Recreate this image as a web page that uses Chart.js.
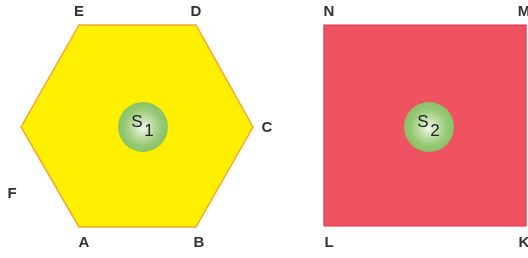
<!DOCTYPE html>
<html>
<head>
<meta charset="utf-8">
<script src="https://cdn.jsdelivr.net/npm/chart.js@4/dist/chart.umd.min.js"></script>
<style>
  html, body { margin: 0; padding: 0; background: #fff; }
  #wrap { width: 528px; height: 258px; }
</style>
</head>
<body>
<div id="wrap"><canvas id="shapes"></canvas></div>
<script>
// hexagon ABCDEF and square KLNM, in picture units
var hexX = [79, 196, 253, 196, 79, 21, 79];
var hexY = [227, 227, 127, 25, 25, 127, 227];
var squareX = [324, 526, 526, 324, 324];
var squareY = [226, 226, 25, 25, 226];

// centres of the two discs
var discX = [143, 429];
var discY = [127, 127];
var discNames = ["1", "2"];

// vertex letters
var letterNames = ["A", "B", "C", "D", "E", "F", "N", "M", "L", "K"];
var letterX = [84, 199, 267, 196, 79, 12, 329, 524, 329, 524];
var letterY = [243, 243, 128, 12, 12, 194, 12, 12, 243, 243];

function pts(xs, ys) {
    return xs.map(function (x, i) { return { x: x, y: ys[i] }; });
}

var textPlugin = {
    id: 'textPlugin',
    afterDatasetsDraw: function (chart) {
        var c = chart.ctx, sx = chart.scales.x, sy = chart.scales.y;
        c.save();
        c.fillStyle = '#333';
        c.textAlign = 'center';
        c.textBaseline = 'middle';
        c.font = 'bold 15px "Liberation Sans", Arial, sans-serif';
        letterNames.forEach(function (n, i) {
            c.fillText(n, sx.getPixelForValue(letterX[i]), sy.getPixelForValue(letterY[i]));
        });
        c.fillStyle = '#222';
        c.font = '17px "Liberation Sans", Arial, sans-serif';
        discNames.forEach(function (n, i) {
            var px = sx.getPixelForValue(discX[i]), py = sy.getPixelForValue(discY[i]);
            c.fillText('S', px - 6, py - 5);
            c.fillText(n, px + 6, py + 4);
        });
        c.restore();
    }
};

var ctx = document.getElementById("shapes");
var chart = new Chart(ctx, {
    type: 'scatter',
    data: {
        datasets: [
            {
                type: 'bubble',
                label: "discs",
                data: discX.map(function (x, i) { return { x: x, y: discY[i], r: 25 }; }),
                borderWidth: 0,
                hoverRadius: 0,
                backgroundColor: function (context) {
                    var ch = context.chart;
                    if (!ch.chartArea || !context.raw) return '#8fc66a';
                    var px = ch.scales.x.getPixelForValue(context.raw.x);
                    var py = ch.scales.y.getPixelForValue(context.raw.y);
                    var g = ch.ctx.createRadialGradient(px, py + 1, 0, px, py, 25);
                    g.addColorStop(0, '#f3f7ee');
                    g.addColorStop(0.4, '#bcdca4');
                    g.addColorStop(0.75, '#95c873');
                    g.addColorStop(1, '#8bc265');
                    return g;
                }
            },
            {
                label: "hexagon",
                data: pts(hexX, hexY),
                showLine: true,
                fill: 'shape',
                borderColor: "#f4a630",
                borderWidth: 1.5,
                backgroundColor: "#fff000",
                pointRadius: 0,
                pointHoverRadius: 0,
                tension: 0
            },
            {
                label: "square",
                data: pts(squareX, squareY),
                showLine: true,
                fill: 'shape',
                borderColor: "#ea3341",
                borderWidth: 1.2,
                backgroundColor: "#ef5261",
                pointRadius: 0,
                pointHoverRadius: 0,
                tension: 0
            }
        ]
    },
    options: {
        responsive: true,
        maintainAspectRatio: false,
        animation: false,
        layout: { padding: 0, autoPadding: false },
        plugins: {
            legend: { display: false },
            tooltip: { enabled: false }
        },
        scales: {
            x: { type: 'linear', min: 0, max: 528, display: false },
            y: { type: 'linear', min: 0, max: 258, reverse: true, display: false }
        }
    },
    plugins: [textPlugin]
});
</script>
</body>
</html>
